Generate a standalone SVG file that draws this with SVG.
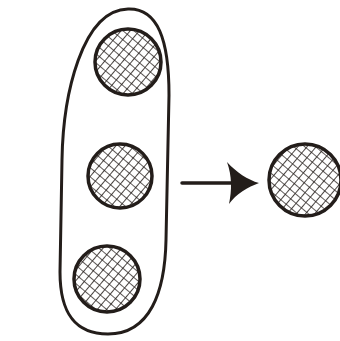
<svg xmlns="http://www.w3.org/2000/svg" width="340" height="341" viewBox="0 0 340 341">
<style>
.ink{fill:none;stroke:#231d1a;stroke-linecap:round;stroke-linejoin:round}
.ball{fill:url(#hatch);stroke:#231d1a;stroke-width:3.5}
</style>
<defs>
<pattern id="hatch" width="7" height="7" patternUnits="userSpaceOnUse" patternTransform="rotate(40)">
<rect width="7" height="7" fill="#fff"/>
<path d="M0,0H7M0,0V7" stroke="#2a2421" stroke-width="1.7"/>
</pattern>
</defs>
<rect width="340" height="341" fill="#fff"/>
<g id="group">
<path class="ink" stroke-width="3" d="M128,9 C158,8 169,40 169,95 L166,240 C165,292 150,334 108,334 C74,334 60,312 60,272 L62,160 C63,95 82,10 128,9 Z"/>
</g>
<g id="ball-top"><circle class="ball" cx="128" cy="62" r="33"/></g>
<g id="ball-mid"><circle class="ball" cx="120" cy="176" r="32"/></g>
<g id="ball-bottom"><circle class="ball" cx="107" cy="279" r="33"/></g>
<g id="ball-result"><circle class="ball" cx="305" cy="180" r="36"/></g>
<g id="connectors">
<path class="ink" stroke-width="3.5" d="M182,183 L240,183"/>
<path fill="#231d1a" d="M227,162 C236,172 248,180 259,183 C248,187 236,194 229,204 C232,190 232,176 227,162 Z"/>
</g>
</svg>
